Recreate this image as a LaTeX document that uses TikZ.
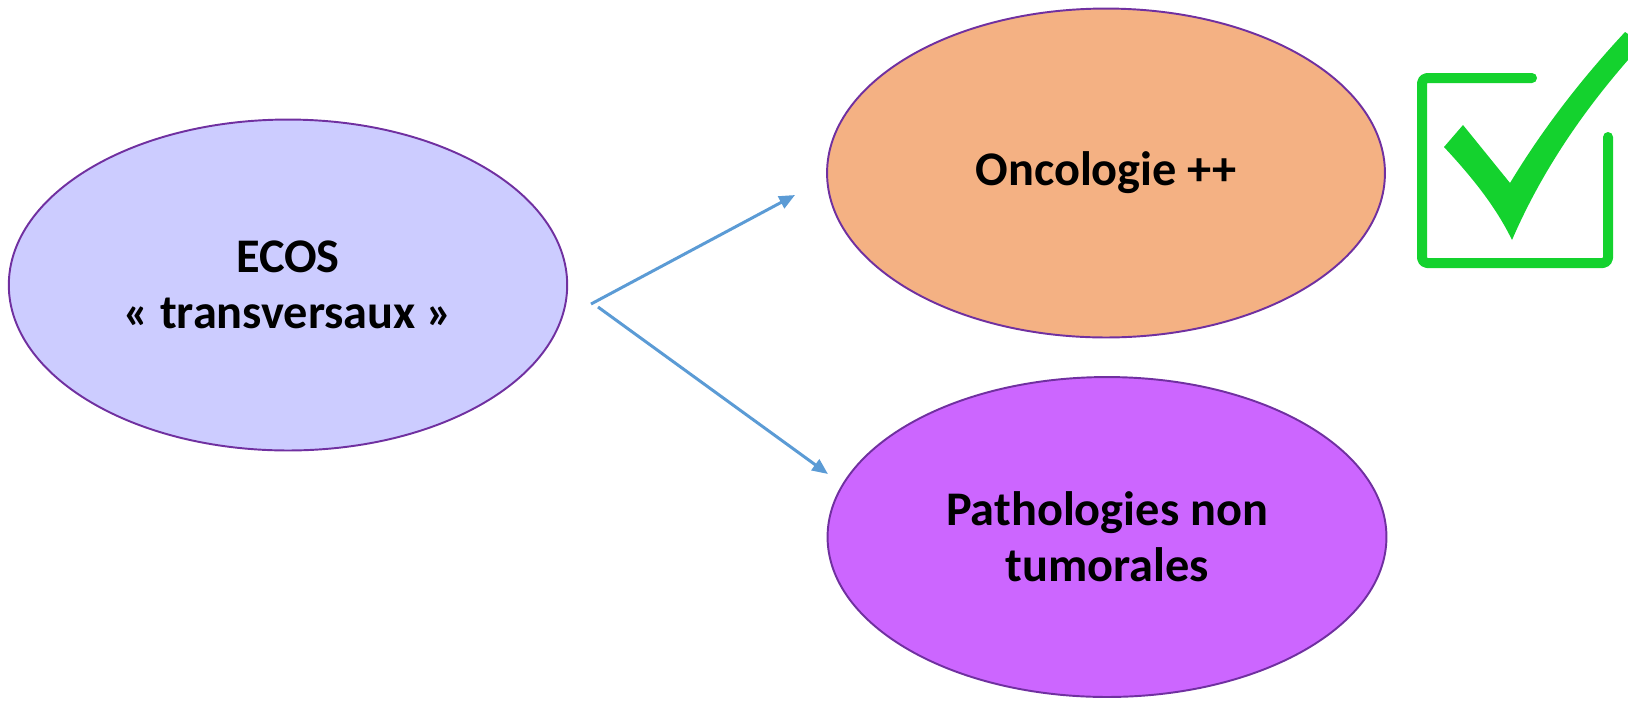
\documentclass[tikz,border=0pt]{standalone}
\usepackage{fontspec}
\setmainfont{Carlito}
\usetikzlibrary{shapes.geometric,arrows.meta}
\definecolor{lav}{HTML}{CCCCFF}
\definecolor{peach}{HTML}{F4B183}
\definecolor{violetfill}{HTML}{CC66FF}
\definecolor{rim}{HTML}{7030A0}
\definecolor{arrowblue}{HTML}{5B9BD5}
\definecolor{okgreen}{HTML}{14D22E}
\tikzset{
  bubble/.style={ellipse, draw=rim, line width=1.1pt, inner sep=0pt,
    align=center, font=\fontsize{27.5}{32}\selectfont\bfseries},
  link/.style={draw=arrowblue, line width=1.7pt,
    -{Triangle[length=9pt,width=7.5pt]}},
}
\begin{document}
\begin{tikzpicture}[x=0.02cm,y=-0.02cm]
\useasboundingbox (0,0) rectangle (1628,701);
\node[bubble, fill=lav, minimum width=11.17cm, minimum height=6.62cm] (ecos) at (288,285) {ECOS\\« transversaux »};
\node[bubble, fill=peach, minimum width=11.16cm, minimum height=6.58cm] (onco) at (1106,173) {Oncologie ++};
\node[bubble, fill=violetfill, minimum width=11.18cm, minimum height=6.4cm] (patho) at (1107,537) {Pathologies non\\tumorales};
\coordinate (s1) at (591,304);
\coordinate (t1) at (795,195);
\coordinate (s2) at (598,307);
\coordinate (t2) at (828,474);
\draw[link] (s1) -- (t1);
\draw[link] (s2) -- (t2);
% check box
\draw[okgreen, line width=0.2cm, line cap=round, line join=round, rounded corners=0.1cm]
  (1532,78) -- (1422,78) -- (1422,263) -- (1608,263) -- (1608,137);
\fill[okgreen] (1444,147) -- (1463,125) -- (1510,183)
  .. controls (1545,125) and (1585,75) .. (1625,32) -- (1628,34) -- (1628,60)
  .. controls (1580,115) and (1540,175) .. (1512,240)
  .. controls (1495,205) and (1470,175) .. cycle;
\end{tikzpicture}
\end{document}
